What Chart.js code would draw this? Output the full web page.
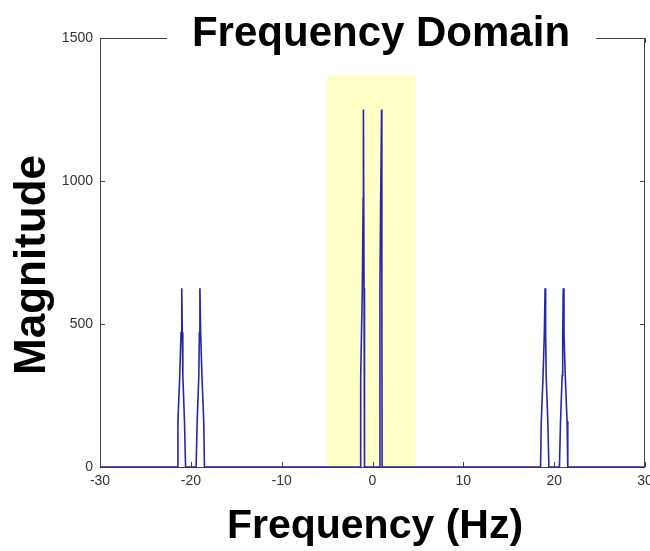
<!DOCTYPE html>
<html>
<head>
<meta charset="utf-8">
<script src="https://cdn.jsdelivr.net/npm/chart.js@4.4.0/dist/chart.umd.min.js"></script>
<style>
  html, body { margin: 0; padding: 0; background: #fff; }
  #wrap { width: 650px; height: 551px; position: relative; }
</style>
</head>
<body>
<div id="wrap"><canvas id="spec"></canvas></div>
<script>
// spectrum samples (Hz, magnitude)
const freqHz = [
  -30,
  -21.5, -21.42, -21.22, -21.08, -21, -20.94, -20.88, -20.7, -20.58,
  -19.42, -19.3, -19.12, -19.06, -19, -18.92, -18.78, -18.58, -18.5,
  -1.36, -1.3, -1.12, -1.03, -1.0, -0.93, -0.88,
  0.79, 0.82, 0.9, 1.0, 1.03, 1.06,
  18.5, 18.58, 18.78, 18.92, 19, 19.06, 19.12, 19.3, 19.42,
  20.58, 20.7, 20.88, 20.94, 21, 21.08, 21.22, 21.42, 21.5,
  30
];
const magnitude = [
  0,
  0, 160, 320, 470, 625, 470, 320, 160, 0,
  0, 160, 320, 470, 625, 470, 320, 160, 0,
  0, 312, 625, 940, 1250, 625, 0,
  0, 625, 940, 1250, 625, 0,
  0, 160, 320, 470, 625, 470, 320, 160, 0,
  0, 160, 320, 470, 625, 470, 320, 160, 0,
  0
];
const xTicks = [-30, -20, -10, 0, 10, 20, 30];
const yTicks = [0, 500, 1000, 1500];
const bandHz = [-5, 4.75];     // highlighted passband
const bandTop = 1370;

const FONT = "'Liberation Sans', Arial, sans-serif";

const frame = {
  id: 'frame',
  beforeDatasetsDraw(chart) {
    const {ctx, chartArea: a, scales: {x, y}} = chart;
    ctx.save();
    // yellow band
    ctx.fillStyle = '#ffffc8';
    const bx0 = x.getPixelForValue(bandHz[0]), bx1 = x.getPixelForValue(bandHz[1]);
    const by0 = y.getPixelForValue(bandTop), by1 = y.getPixelForValue(0);
    ctx.fillRect(bx0, by0, bx1 - bx0, by1 - by0);
    // box
    ctx.strokeStyle = '#444';
    ctx.lineWidth = 1;
    ctx.strokeRect(a.left + 0.5, a.top + 0.5, a.right - a.left - 1, a.bottom - a.top);
    // inward ticks
    const t = 5;
    ctx.beginPath();
    xTicks.forEach(v => {
      const px = Math.round(x.getPixelForValue(v)) + 0.5;
      ctx.moveTo(px, a.bottom); ctx.lineTo(px, a.bottom - t);
      ctx.moveTo(px, a.top); ctx.lineTo(px, a.top + t);
    });
    yTicks.forEach(v => {
      const py = Math.round(y.getPixelForValue(v)) + 0.5;
      ctx.moveTo(a.left, py); ctx.lineTo(a.left + t, py);
      ctx.moveTo(a.right, py); ctx.lineTo(a.right - t, py);
    });
    ctx.stroke();
    ctx.restore();
  },
  afterDraw(chart) {
    const {ctx} = chart;
    ctx.save();
    // title sits on the top border, with a white gap behind it
    ctx.fillStyle = '#fff';
    ctx.fillRect(167, 30, 429, 16);
    ctx.fillStyle = '#000';
    ctx.textAlign = 'center';
    ctx.textBaseline = 'alphabetic';
    ctx.font = 'bold 42px ' + FONT;
    ctx.fillText('Frequency Domain', 381, 46);
    ctx.font = 'bold 41px ' + FONT;
    ctx.fillText('Frequency (Hz)', 375, 538);
    ctx.font = 'bold 44px ' + FONT;
    ctx.translate(45, 265);
    ctx.rotate(-Math.PI / 2);
    ctx.fillText('Magnitude', 0, 0);
    ctx.restore();
  }
};

new Chart(document.getElementById('spec'), {
  type: 'line',
  data: {
    datasets: [{
      data: freqHz.map((f, i) => ({x: f, y: magnitude[i]})),
      borderColor: '#2626a6',
      borderWidth: 1.6,
      pointRadius: 0,
      tension: 0,
      clip: 3
    }]
  },
  options: {
    responsive: true,
    maintainAspectRatio: false,
    animation: false,
    layout: { padding: { top: 38, right: 5, left: 0, bottom: 0 } },
    plugins: { legend: { display: false }, tooltip: { enabled: false } },
    scales: {
      x: {
        type: 'linear', min: -30, max: 30,
        afterBuildTicks: s => { s.ticks = xTicks.map(v => ({value: v})); },
        afterFit: s => { s.height = 84; s.paddingLeft = 0; s.paddingRight = 0; },
        grid: { display: false, drawTicks: false },
        border: { display: false },
        ticks: { color: '#333', font: { family: FONT, size: 14 }, padding: 6, maxRotation: 0,
                 callback: v => String(v) }
      },
      y: {
        min: 0, max: 1500,
        afterBuildTicks: s => { s.ticks = yTicks.map(v => ({value: v})); },
        afterFit: s => { s.width = 100; s.paddingTop = 0; s.paddingBottom = 0; },
        grid: { display: false, drawTicks: false },
        border: { display: false },
        ticks: { color: '#333', font: { family: FONT, size: 14 }, padding: 7,
                 callback: v => String(v) }
      }
    }
  },
  plugins: [frame]
});
</script>
</body>
</html>
